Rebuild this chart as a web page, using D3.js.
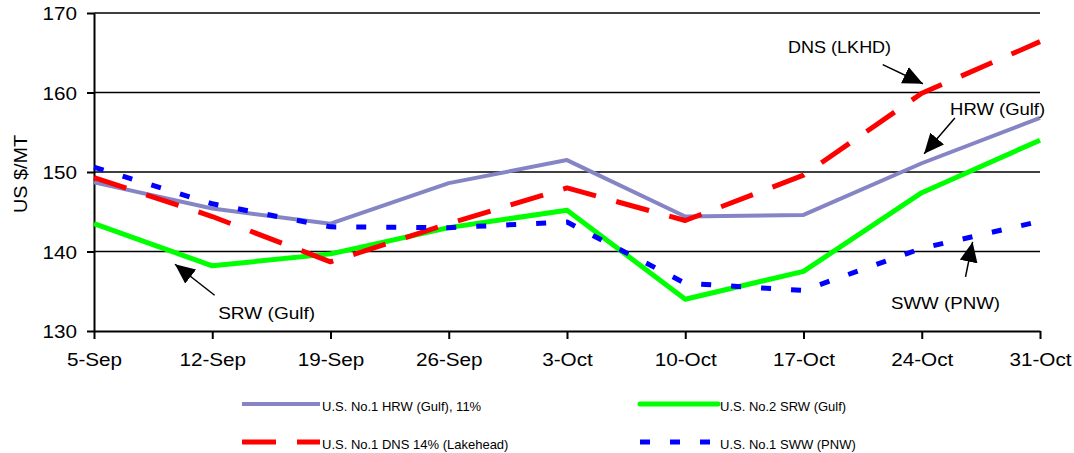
<!DOCTYPE html>
<html>
<head>
<meta charset="utf-8">
<script src="https://cdn.jsdelivr.net/npm/d3@7"></script>
<style>
  body { margin: 0; background: #fff; }
  text { font-family: Arial, "Liberation Sans", sans-serif; fill: #000; }
</style>
</head>
<body>
<svg id="svg1"></svg>
<script>
// weekly prices, US $/MT
const weeks = ['5-Sep', '12-Sep', '19-Sep', '26-Sep', '3-Oct', '10-Oct', '17-Oct', '24-Oct', '31-Oct'];
const hrwGulf = [148.7, 145.4, 143.5, 148.6, 151.5, 144.4, 144.6, 151.1, 156.8];
const srwGulf = [143.5, 138.2, 139.7, 143.0, 145.2, 134.0, 137.5, 147.4, 154.0];
const dnsLakehead = [149.3, 144.4, 138.7, 143.5, 148.0, 143.9, 149.6, 159.9, 166.4];
const swwPnw = [150.6, 146.0, 143.1, 143.0, 143.7, 136.0, 135.1, 140.4, 143.8];
const yTicks = [130, 140, 150, 160, 170];

const series = [
    {label: 'U.S. No.1 HRW (Gulf), 11%', values: hrwGulf, color: '#8585c5', width: 4, dash: null},
    {label: 'U.S. No.2 SRW (Gulf)', values: srwGulf, color: '#00ff00', width: 5, dash: null},
    {label: 'U.S. No.1 DNS 14% (Lakehead)', values: dnsLakehead, color: '#ff0000', width: 5, dash: '34,21'},
    {label: 'U.S. No.1 SWW (PNW)', values: swwPnw, color: '#0000ff', width: 5, dash: '10,20'}
];

// callouts, in data units (week index, price)
const callouts = [
    {text: 'DNS (LKHD)', tip: [7.01, 161.1], tail: [6.67, 163.5], at: [5.87, 165.0], len: 103},
    {text: 'HRW (Gulf)', tip: [7.02, 152.3], tail: [7.28, 156.8], at: [7.24, 157.2], len: 95},
    {text: 'SRW (Gulf)', tip: [0.685, 138.4], tail: [1.02, 134.5], at: [1.05, 131.5], len: 97},
    {text: 'SWW (PNW)', tip: [7.43, 141.2], tail: [7.37, 136.8], at: [6.74, 132.8], len: 109}
];

const svgWidth = 1074;
const svgHeight = 453;
const svg = d3.select('#svg1')
    .attr('width', svgWidth)
    .attr('height', svgHeight);

const x = d3.scalePoint()
    .domain(weeks)
    .range([94, 1040]);
const y = d3.scaleLinear()
    .domain([130, 170])
    .range([331, 13]);
const xi = d3.scaleLinear()
    .domain([0, weeks.length - 1])
    .range([94, 1040]);

function stretch(sel, k) {
    sel.each(function() {
        const w = this.getComputedTextLength();
        d3.select(this).attr('textLength', w * k).attr('lengthAdjust', 'spacingAndGlyphs');
    });
}

// gridlines
svg.append('g')
    .selectAll('line')
    .data(yTicks.slice(1))
    .join('line')
    .attr('x1', 94)
    .attr('x2', 1040)
    .attr('y1', d => y(d))
    .attr('y2', d => y(d))
    .style('stroke', '#000')
    .style('stroke-width', 1.3);

// axes
const yAxis = svg.append('g')
    .attr('transform', 'translate(94,0)')
    .call(d3.axisLeft(y).tickValues(yTicks).tickSize(7).tickPadding(10).tickSizeOuter(0));
const xAxis = svg.append('g')
    .attr('transform', 'translate(0,331)')
    .call(d3.axisBottom(x).tickSize(8).tickPadding(12).tickSizeOuter(0));

for (const ax of [xAxis, yAxis]) {
    ax.select('.domain').style('stroke', '#000').style('stroke-width', 2);
    ax.selectAll('.tick line').style('stroke', '#000').style('stroke-width', 2);
    ax.selectAll('.tick text')
        .style('font-size', '18px')
        .style('font-family', 'Arial, "Liberation Sans", sans-serif')
        .attr('fill', '#000');
}
xAxis.selectAll('.tick text').attr('dy', '0.85em');
yAxis.selectAll('.tick text').attr('dy', '0.38em');
stretch(xAxis.selectAll('.tick text'), 1.15);
stretch(yAxis.selectAll('.tick text'), 1.15);

svg.append('text')
    .attr('transform', 'translate(27,174) rotate(-90)')
    .attr('text-anchor', 'middle')
    .style('font-size', '18px')
    .text('US $/MT')
    .call(stretch, 1.1);

// lines
const line = d3.line()
    .x((d, i) => x(weeks[i]))
    .y(d => y(d));

for (const s of series) {
    svg.append('path')
        .datum(s.values)
        .attr('d', line)
        .style('fill', 'none')
        .style('stroke', s.color)
        .style('stroke-width', s.width)
        .style('stroke-linejoin', 'round')
        .style('stroke-dasharray', s.dash);
}

// callouts
svg.append('defs')
    .append('marker')
    .attr('id', 'head')
    .attr('markerUnits', 'userSpaceOnUse')
    .attr('viewBox', '0 0 20 18')
    .attr('refX', 20)
    .attr('refY', 9)
    .attr('markerWidth', 20)
    .attr('markerHeight', 18)
    .attr('orient', 'auto')
    .append('path')
    .attr('d', 'M0,0L20,9L0,18Z')
    .style('fill', '#000');

for (const c of callouts) {
    svg.append('line')
        .attr('x1', xi(c.tail[0]))
        .attr('y1', y(c.tail[1]))
        .attr('x2', xi(c.tip[0]))
        .attr('y2', y(c.tip[1]))
        .style('stroke', '#000')
        .style('stroke-width', 1.5)
        .attr('marker-end', 'url(#head)');
    svg.append('text')
        .attr('x', xi(c.at[0]))
        .attr('y', y(c.at[1]))
        .style('font-size', '17px')
        .attr('textLength', c.len)
        .attr('lengthAdjust', 'spacingAndGlyphs')
        .text(c.text);
}

// legend
const legendPos = [[242, 404], [640, 404], [242, 442], [640, 442]];
series.forEach((s, i) => {
    const [lx, ly] = legendPos[i];
    svg.append('line')
        .attr('x1', lx)
        .attr('x2', lx + 78)
        .attr('y1', ly)
        .attr('y2', ly)
        .style('stroke', s.color)
        .style('stroke-width', s.width)
        .style('stroke-linecap', i === 1 ? 'round' : 'butt')
        .style('stroke-dasharray', s.dash);
    svg.append('text')
        .attr('x', lx + 80)
        .attr('y', ly + 7)
        .style('font-size', '13px')
        .text(s.label);
});
</script>
</body>
</html>
